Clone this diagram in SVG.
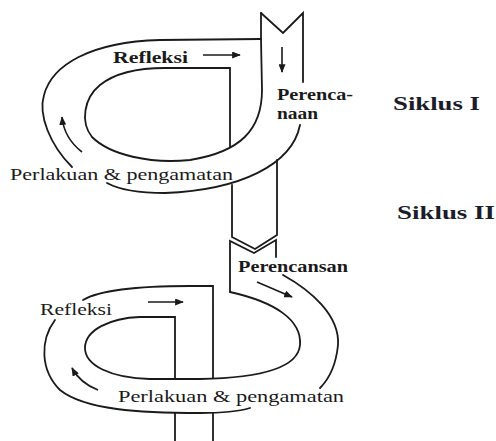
<svg xmlns="http://www.w3.org/2000/svg" width="496" height="441" viewBox="0 0 496 441">
<defs>
<style>
.ln{fill:none;stroke:#1a1a1a;stroke-width:1.8;stroke-linecap:round;stroke-linejoin:miter}
.ar{fill:none;stroke:#1a1a1a;stroke-width:1.6}
.t{font-family:"Liberation Serif","DejaVu Serif",serif;fill:#1a1a1a}
.b{font-weight:bold}
.s{font-family:"Liberation Serif","DejaVu Serif",serif;font-weight:bold;font-size:19px;fill:#1c1c2a}
</style>
<marker id="ah" viewBox="0 0 10 8" refX="9" refY="4" markerWidth="9" markerHeight="7" markerUnits="userSpaceOnUse" orient="auto">
<path d="M0,0 L10,4 L0,8 Z" fill="#1a1a1a"/>
</marker>
</defs>
<rect width="496" height="441" fill="#ffffff"/>

<g id="connectors">
<!-- upper strip -->
<path class="ln" d="M261,13 L283,33 L303,13 L303,82"/>
<path class="ln" d="M261,13 L261,39"/>
<path class="ln" d="M300,125 C292,165 240,190 165,193 C135,193 118,189 107,183"/>
<path class="ln" d="M72,167 C50,145 38,115 44,95 C52,65 90,42 160,40 L261,39"/>
<path class="ln" d="M261,39 L262,90 C262,130 240,152 190,160 C150,164 110,155 92,137 C80,122 84,98 100,85 C115,73 135,68 165,68 L230,68 L230,147"/>
<!-- connecting band -->
<path class="ln" d="M232,185 L232,237 L255,249 L277,235 L277,160"/>
<path class="ln" d="M230,292 L230,241 L254,253 L276,240 L276,257"/>
<!-- lower loop -->
<path class="ln" d="M230,292 C275,302 302,320 300,345 C298,368 260,378 200,379 L150,379 C110,378 85,365 85,348 C85,330 110,318 140,317 L175,317 L175,379"/>
<path class="ln" d="M213,378 L213,286 L190,286 C140,286 100,290 83,300"/>
<path class="ln" d="M55,320 C40,340 40,370 60,390 C85,410 140,413 200,413 C225,413 240,411 250,408"/>
<path class="ln" d="M283,275 C310,290 340,315 338,345 C336,365 330,378 320,388"/>
<path class="ln" d="M175,413 L175,441"/>
<path class="ln" d="M213,413 L213,441"/>
<!-- arrows -->
<path class="ar" d="M203,55 L240,55" marker-end="url(#ah)"/>
<path class="ar" d="M282,47 L282,72" marker-end="url(#ah)"/>
<path class="ar" d="M82,152 Q64,138 62,117" marker-end="url(#ah)"/>
<path class="ar" d="M148,302 L183,302" marker-end="url(#ah)"/>
<path class="ar" d="M98,390 Q80,383 72,368" marker-end="url(#ah)"/>
<path class="ar" d="M257,282 L292,297" marker-end="url(#ah)"/>
</g>

<g id="refleksi1"><text class="t b" x="113" y="63" font-size="17" textLength="75" lengthAdjust="spacingAndGlyphs">Refleksi</text></g>
<g id="perencanaan1">
<text class="t b" x="277" y="100" font-size="16" textLength="76" lengthAdjust="spacingAndGlyphs">Perenca-</text>
<text class="t b" x="277" y="119" font-size="16" textLength="41" lengthAdjust="spacingAndGlyphs">naan</text>
</g>
<g id="perlakuan1"><text class="t" x="10" y="180" font-size="17" textLength="223" lengthAdjust="spacingAndGlyphs">Perlakuan &amp; pengamatan</text></g>
<g id="siklus1"><text class="s" x="393" y="110" textLength="87" lengthAdjust="spacingAndGlyphs">Siklus I</text></g>
<g id="siklus2"><text class="s" x="397" y="219" textLength="98" lengthAdjust="spacingAndGlyphs">Siklus II</text></g>
<g id="perencanaan2"><text class="t b" x="238" y="272" font-size="16" textLength="110" lengthAdjust="spacingAndGlyphs">Perencansan</text></g>
<g id="refleksi2"><text class="t" x="40" y="315" font-size="16" textLength="72" lengthAdjust="spacingAndGlyphs">Refleksi</text></g>
<g id="perlakuan2"><text class="t" x="118" y="402" font-size="17" textLength="226" lengthAdjust="spacingAndGlyphs">Perlakuan &amp; pengamatan</text></g>
</svg>
